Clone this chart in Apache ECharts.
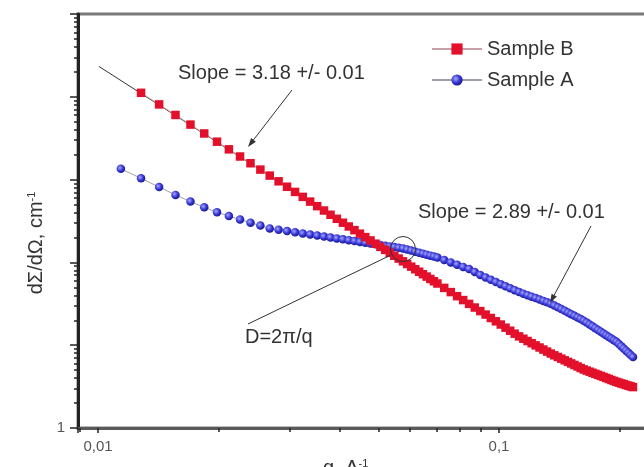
<!DOCTYPE html>
<html><head><meta charset="utf-8">
<script src="https://cdn.jsdelivr.net/npm/echarts@6/dist/echarts.min.js"></script>
<style>html,body{margin:0;padding:0;background:#fff;overflow:hidden;width:644px;height:467px}#c{width:680px;height:467px}</style>
</head><body><div id="c"></div><script>
// q values, 1/Angstrom
const q = [0.0114,0.0128,0.0142,0.0156,0.0170,0.0184,0.0198,0.0212,0.0226,0.0240,0.0254,0.0268,0.0282,0.0296,0.0310,0.0324,0.0338,0.0352,0.0366,0.0380,0.0394,0.0408,0.0422,0.0436,0.0450,0.0464,0.0478,0.0492,0.0506,0.0520,0.0534,0.0548,0.0562,0.0576,0.0590,0.0604,0.0618,0.0632,0.0646,0.0660,0.0674,0.0688,0.0702,
0.0730,0.0758,0.0786,0.0814,0.0842,0.0870,0.0898,0.0926,0.0954,0.0982,0.1010,0.1038,0.1066,0.1094,0.1122,0.1150,0.1178,0.1206,0.1234,0.1262,0.1290,0.1318,0.1346,0.1374,0.1402,0.1430,0.1458,0.1486,0.1514,0.1542,0.1570,0.1598,0.1626,0.1654,0.1682,0.1710,0.1738,0.1766,0.1794,0.1822,0.1850,0.1878,0.1906,0.1934,0.1962,0.1990,0.2018,0.2046,0.2074,0.2102,0.2130,0.2158];
const sampleB = [null,11170,8090,6034,4616,3607,2870,2320,1901,1576,1321,1118,953.5,820,710,618.6,542.4,477.9,423.1,376.3,336.3,301.6,271.5,245.2,222.3,202.1,184.2,168.3,154.2,141.6,130.4,120.3,111.2,103.0,95.56,88.83,82.73,77.14,72.03,67.40,63.12,59.19,55.60,
49.22,43.78,39.10,35.06,31.55,28.50,25.82,23.44,21.31,19.44,17.77,16.28,14.96,13.77,12.78,11.98,11.24,10.57,9.95,9.38,8.86,8.37,7.93,7.55,7.21,6.88,6.57,6.29,6.02,5.77,5.53,5.30,5.10,4.94,4.79,4.65,4.51,4.38,4.26,4.14,4.02,3.91,3.80,3.70,3.61,3.53,3.45,3.38,3.31,3.25,3.18,3.12];
const sampleA = [1349,1035,812.8,653.1,543.3,462.4,402.7,363.1,329.6,302.2,278.3,257.5,247.7,239.1,231.1,223.8,217.2,211.0,205.3,199.8,194.8,189.9,185.2,180.9,176.7,172.8,169.1,165.5,162.2,159.0,155.9,153.0,150.2,147.5,143.0,138.8,134.9,131.0,127.4,124.0,120.7,117.6,114.4,
106.8,100.0,93.8,88.25,83.2,76.7,70.65,65.68,61.64,57.95,54.59,51.50,48.65,46.04,43.81,41.95,40.22,38.59,37.07,35.64,34.30,33.03,31.73,30.14,28.67,27.29,26.00,24.80,23.67,22.62,21.63,20.70,19.78,18.75,17.79,16.89,16.05,15.27,14.54,13.85,13.21,12.60,12.03,11.50,10.99,10.36,9.72,9.14,8.59,8.08,7.61,7.18];
// power-law fit drawn over Sample B
const fitBq = [0.01005, 0.050];
const fitBI = [23270, 160];
const xTickLabels = [[0.01,'0,01'],[0.1,'0,1']];
const yTickLabels = [[1,'1']];

const font = '"Liberation Sans", Arial, Helvetica, sans-serif';
function pairs(xs, ys){ const out=[]; xs.forEach((x,i)=>{ if(ys[i]!=null) out.push([x, ys[i]]); }); return out; }
function lab(list){ return function(v){ for(const [t,s] of list){ if(Math.abs(v-t)/t<1e-6) return s; } return ''; }; }

const chart = echarts.init(document.getElementById('c'), null, {renderer:'canvas'});

function arrow(x1,y1,x2,y2){
  const dx=x2-x1, dy=y2-y1, L=Math.hypot(dx,dy), ux=dx/L, uy=dy/L;
  const hl=9, hw=3;
  const bx=x2-ux*hl, by=y2-uy*hl;
  return [
    {type:'line', z:50, shape:{x1:x1,y1:y1,x2:bx,y2:by}, style:{stroke:'#333', lineWidth:1}},
    {type:'polygon', z:50, shape:{points:[[x2,y2],[bx-uy*hw, by+ux*hw],[bx+uy*hw, by-ux*hw]]}, style:{fill:'#333'}}
  ];
}
const txt = (x,y,t,extra)=>Object.assign({type:'text', z:50, x:x, y:y, style:{text:t, fill:'#333', font:'20px '+font, verticalAlign:'middle', align:'left'}}, extra||{});

const graphics = [].concat(
  [txt(178,73,'Slope = 3.18 +/- 0.01'), txt(418,212,'Slope = 2.89 +/- 0.01'), txt(245,337,'D=2\u03c0/q')],
  arrow(292,90,248,147),
  arrow(591,226,550,303),
  [{type:'line', z:50, shape:{x1:248,y1:324,x2:391,y2:255}, style:{stroke:'#333', lineWidth:1}},
   {type:'circle', z:50, shape:{cx:403,cy:249,r:12.5}, style:{stroke:'#333', fill:null, lineWidth:1}},
   {type:'text', z:50, x:323, y:458, style:{text:'q, A{s|-1}', fill:'#333', font:'20px '+font, verticalAlign:'top', rich:{s:{fontSize:11, verticalAlign:'top', padding:[0,0,9,0], fill:'#333'}}}},
   {type:'text', z:50, x:36, y:243, rotation:Math.PI/2, style:{text:'d\u03a3/d\u03a9, cm{s|-1}', fill:'#333', font:'20px '+font, align:'center', verticalAlign:'middle', rich:{s:{fontSize:11, verticalAlign:'top', padding:[0,0,9,0], fill:'#333'}}}}
  ]
);

const blueBall = new echarts.graphic.RadialGradient(0.38, 0.38, 0.65, [
  {offset:0, color:'#a8a8ff'},{offset:0.55, color:'#3a3ad8'},{offset:1, color:'#14148c'}]);

chart.setOption({
  animation:false,
  backgroundColor:'#fff',
  grid:{left:78, top:14, width:580.6, height:414, show:true, borderColor:'#7a7a7a', borderWidth:3, backgroundColor:'transparent'},
  legend:{orient:'vertical', left:426, top:34, itemWidth:50, itemHeight:14, itemGap:11, data:['Sample B','Sample A'],
    textStyle:{fontSize:20, color:'#333', fontFamily:font}},
  xAxis:{type:'log', logBase:10, min:0.0089125, max:0.25,
    axisLine:{show:true, onZero:false, lineStyle:{color:'#5a5a5a', width:3}},
    axisTick:{show:true, inside:false, length:5, lineStyle:{color:'#222', width:1.5}},
    minorTick:{show:true, splitNumber:9, length:4, lineStyle:{color:'#222', width:1.5}},
    axisLabel:{formatter:lab(xTickLabels), color:'#555', fontSize:15, margin:11, fontFamily:font, showMinLabel:true, showMaxLabel:false},
    splitLine:{show:false}, minorSplitLine:{show:false}},
  yAxis:{type:'log', logBase:10, min:1, max:100000,
    axisLine:{show:true, onZero:false, lineStyle:{color:'#222', width:3}},
    axisTick:{show:true, inside:false, length:8, lineStyle:{color:'#222', width:1.5}},
    minorTick:{show:true, splitNumber:9, length:4, lineStyle:{color:'#222', width:1.5}},
    axisLabel:{formatter:lab(yTickLabels), color:'#555', fontSize:15, margin:13, fontFamily:font},
    splitLine:{show:false}, minorSplitLine:{show:false}},
  series:[
    {name:'Sample B', type:'line', data:pairs(q, sampleB), symbol:'rect', symbolSize:8.5, z:4,
      itemStyle:{color:'#e3102c'}, lineStyle:{color:'#c8a0a8', width:1}},
    {name:'Sample A', type:'line', data:pairs(q, sampleA), symbol:'circle', symbolSize:8.5, z:3,
      itemStyle:{color:blueBall}, lineStyle:{color:'#a0a0a8', width:1}},
    {name:'fit B', type:'line', data:pairs(fitBq, fitBI), symbol:'none', z:2,
      lineStyle:{color:'#333', width:1}, tooltip:{show:false}}
  ],
  graphic:graphics
});
</script></body></html>
